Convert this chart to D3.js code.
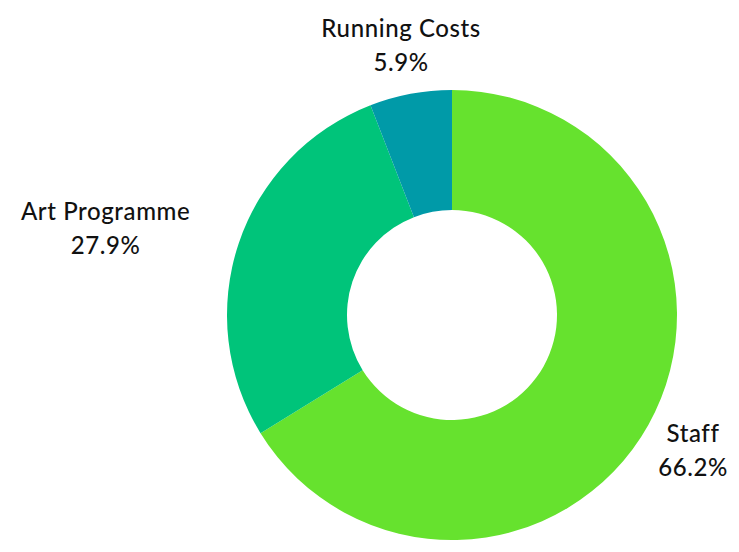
<!DOCTYPE html>
<html><head><meta charset="utf-8">
<script src="https://cdn.jsdelivr.net/npm/d3@7"></script>
<style>body{margin:0;background:#fff}svg{display:block}</style>
</head><body>
<svg id="c" width="739" height="552"></svg>
<script>
const categories = ["Staff", "Art Programme", "Running Costs"];
const values = [66.2, 27.9, 5.9];
const colors = ["#66e22e", "#00c47a", "#009aa8"];

const svg = d3.select("#c");
const cx = 452, cy = 315, outerR = 225, innerR = 105, labelR = 276;
const g = svg.append("g").attr("transform", `translate(${cx},${cy})`);
const data = categories.map((c, i) => ({ name: c, value: values[i], color: colors[i] }));
const pie = d3.pie().value(d => d.value).sort(null);
const arc = d3.arc().innerRadius(innerR).outerRadius(outerR);
const arcs = pie(data);

g.selectAll("path").data(arcs).join("path")
  .attr("d", arc).attr("fill", d => d.data.color);

const font = "Lato, 'Noto Sans', sans-serif";
const lineH = 34;
arcs.forEach(a => {
  const mid = (a.startAngle + a.endAngle) / 2;
  const sx = Math.sin(mid), sy = -Math.cos(mid);
  const px = sx * labelR, py = sy * labelR;
  const t = g.append("text").attr("font-family", font).attr("font-size", 24)
    .attr("letter-spacing", 0.6)
    .attr("font-weight", 500).attr("fill", "#111").attr("text-anchor", "middle")
    .attr("dominant-baseline", "central");
  const l1 = t.append("tspan").attr("x", 0).attr("y", -lineH / 2).text(a.data.name);
  const l2 = t.append("tspan").attr("x", 0).attr("y", lineH / 2).text(a.data.value.toFixed(1) + "%");
  const w = Math.max(l1.node().getComputedTextLength(), l2.node().getComputedTextLength());
  let x = px;
  if (Math.abs(sx) > 0.9) x = px + Math.sign(sx) * w / 2;
  t.attr("transform", `translate(${x},${py})`);
});
</script>
</body></html>
